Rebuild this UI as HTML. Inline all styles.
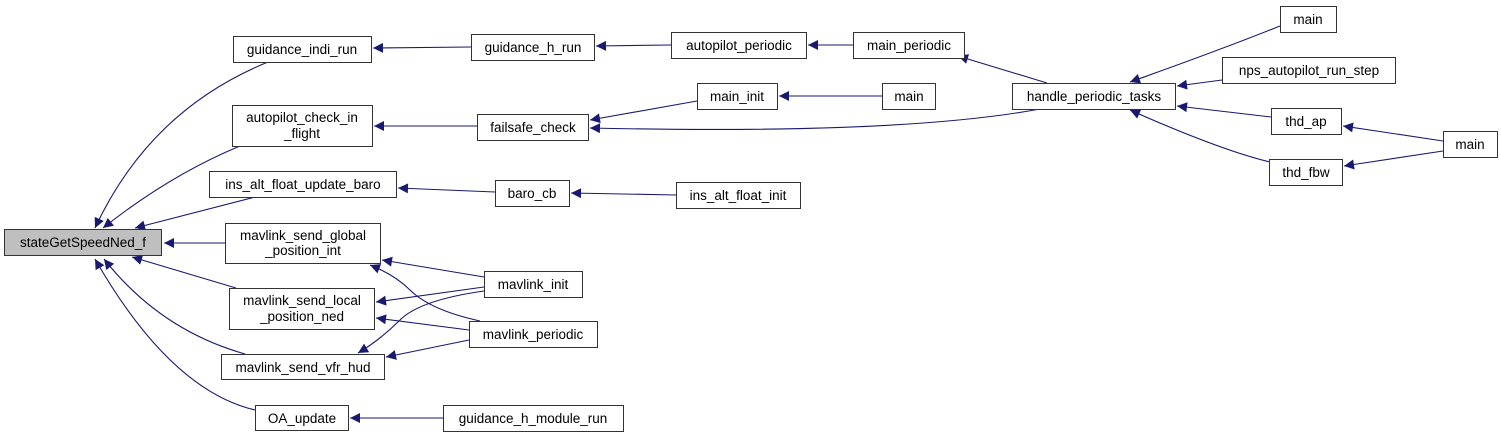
<!DOCTYPE html>
<html><head><meta charset="utf-8"><style>
html,body{margin:0;padding:0;background:#fff;width:1501px;height:436px;overflow:hidden}
text{font-family:"Liberation Sans",sans-serif;font-size:13.5px;fill:#000}
</style></head><body>
<svg width="1501" height="436" viewBox="0 0 1501 436" xmlns="http://www.w3.org/2000/svg">
<defs><marker id="a" viewBox="0 0 10 10" refX="10" refY="5" markerWidth="13" markerHeight="10" markerUnits="userSpaceOnUse" orient="auto"><path d="M0,0L10,5L0,10z" fill="#191970"/></marker></defs>
<g fill="none" stroke="#191970" stroke-width="1.1" marker-end="url(#a)">
<path d="M268,62 Q150,110 95,228"/>
<path d="M240,146 Q170,175 103,228"/>
<path d="M255,197 L135,228"/>
<path d="M225,243 L164,243"/>
<path d="M236,288 L132,257"/>
<path d="M245,354 Q160,330 104,259"/>
<path d="M255,410 Q170,390 95,259"/>
<path d="M471,47 L373,48"/>
<path d="M477,126 L374,126"/>
<path d="M495,192 L398,188"/>
<path d="M484,277 L382,260"/>
<path d="M484,287 L376,302"/>
<path d="M484,291 Q420,300 400,320 Q380,340 358,353"/>
<path d="M469,330 L376,318"/>
<path d="M469,340 L386,357"/>
<path d="M480,321 Q430,310 410,290 Q395,275 370,265"/>
<path d="M443,418 L350,418"/>
<path d="M671,45 L596,46"/>
<path d="M853,45 L808,45"/>
<path d="M883,96 L779,96"/>
<path d="M697,101 L590,120"/>
<path d="M1040,109 Q900,135 590,128"/>
<path d="M1047,83 L958,56"/>
<path d="M676,195 L571,193"/>
<path d="M1280,26 Q1220,50 1130,82"/>
<path d="M1222,80 L1177,86"/>
<path d="M1271,117 L1177,106"/>
<path d="M1270,162 Q1220,150 1130,110"/>
<path d="M1443,141 L1343,126"/>
<path d="M1443,151 L1344,166"/>
</g>
<g stroke="#333" stroke-width="1" fill="#fff">
<rect x="4.5" y="229.5" width="157" height="26" fill="#bfbfbf"/>
<rect x="233.5" y="36.5" width="138" height="26"/>
<rect x="232.5" y="105.5" width="140" height="41"/>
<rect x="209.5" y="171.5" width="187" height="26"/>
<rect x="225.5" y="223.5" width="155" height="40"/>
<rect x="229.5" y="288.5" width="145" height="41"/>
<rect x="221.5" y="354.5" width="163" height="25"/>
<rect x="255.5" y="405.5" width="93" height="25"/>
<rect x="471.5" y="34.5" width="123" height="26"/>
<rect x="477.5" y="114.5" width="111" height="26"/>
<rect x="495.5" y="180.5" width="74" height="26"/>
<rect x="484.5" y="271.5" width="98" height="26"/>
<rect x="469.5" y="321.5" width="128" height="26"/>
<rect x="443.5" y="405.5" width="180" height="26"/>
<rect x="671.5" y="32.5" width="135" height="26"/>
<rect x="853.5" y="32.5" width="111" height="26"/>
<rect x="697.5" y="83.5" width="80" height="26"/>
<rect x="882.5" y="83.5" width="53" height="26"/>
<rect x="676.5" y="182.5" width="124" height="26"/>
<rect x="1012.5" y="83.5" width="163" height="26"/>
<rect x="1280.5" y="6.5" width="56" height="26"/>
<rect x="1222.5" y="57.5" width="173" height="26"/>
<rect x="1271.5" y="108.5" width="70" height="26"/>
<rect x="1269.5" y="159.5" width="73" height="26"/>
<rect x="1443.5" y="131.5" width="54" height="26"/>
</g>
<g text-anchor="middle">
<text x="83" y="247">stateGetSpeedNed_f</text>
<text x="302" y="54">guidance_indi_run</text>
<text x="302" y="122">autopilot_check_in</text>
<text x="302" y="138">_flight</text>
<text x="303" y="189">ins_alt_float_update_baro</text>
<text x="303" y="240">mavlink_send_global</text>
<text x="303" y="255">_position_int</text>
<text x="302" y="305">mavlink_send_local</text>
<text x="302" y="321">_position_ned</text>
<text x="303" y="372">mavlink_send_vfr_hud</text>
<text x="302" y="423">OA_update</text>
<text x="533" y="52">guidance_h_run</text>
<text x="533" y="132">failsafe_check</text>
<text x="532" y="198">baro_cb</text>
<text x="533" y="289">mavlink_init</text>
<text x="533" y="339">mavlink_periodic</text>
<text x="533" y="423">guidance_h_module_run</text>
<text x="739" y="50">autopilot_periodic</text>
<text x="909" y="50">main_periodic</text>
<text x="737" y="101">main_init</text>
<text x="909" y="101">main</text>
<text x="738" y="200">ins_alt_float_init</text>
<text x="1094" y="101">handle_periodic_tasks</text>
<text x="1308" y="24">main</text>
<text x="1309" y="75">nps_autopilot_run_step</text>
<text x="1306" y="126">thd_ap</text>
<text x="1306" y="177">thd_fbw</text>
<text x="1470" y="149">main</text>
</g>
</svg>
</body></html>
